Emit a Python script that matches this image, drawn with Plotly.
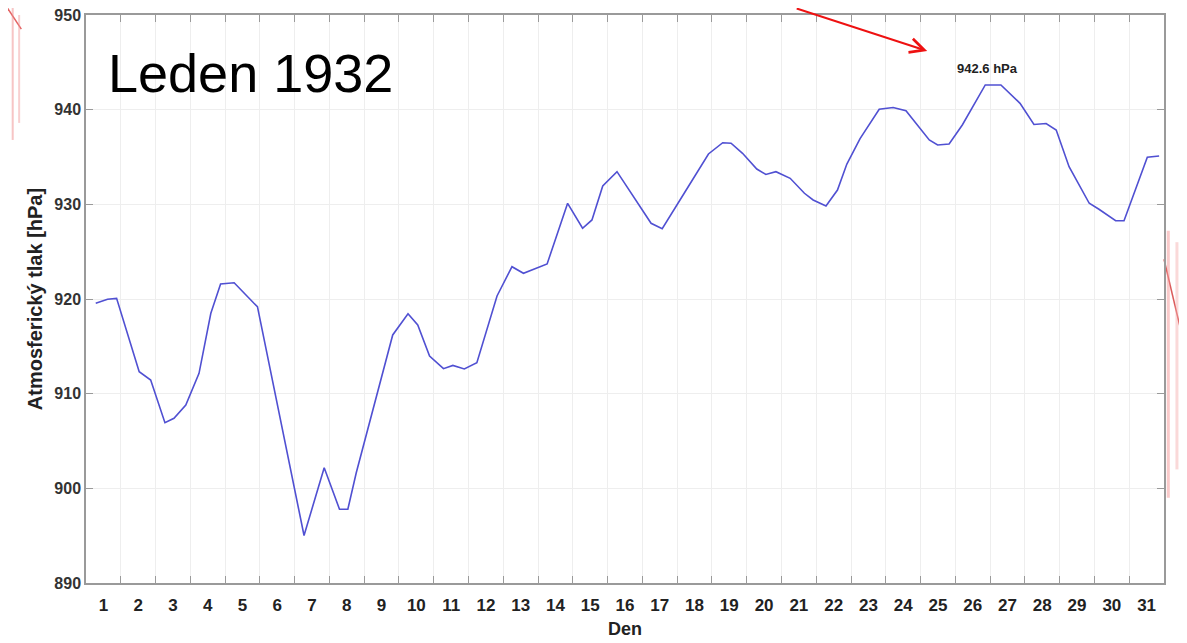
import plotly.graph_objects as go

# Time in days since 1 Jan 1932 00:00 (x axis spans 0..31 days)
time_days = [0.28, 0.62, 0.88, 1.53, 1.86, 2.27, 2.53, 2.87, 3.25, 3.59, 3.87, 4.26,
             4.83, 4.93, 6.27, 6.85, 7.29, 7.53, 7.77, 8.82, 9.26, 9.54, 9.88, 10.28,
             10.55, 10.88, 11.24, 11.82, 12.25, 12.58, 13.26, 13.61, 13.85, 14.28, 14.55,
             14.86, 15.27, 16.25, 16.57, 17.26, 17.90, 18.31, 18.55, 18.88, 19.29, 19.55,
             19.84, 20.25, 20.66, 20.91, 21.28, 21.61, 21.88, 22.26, 22.81, 23.21, 23.58,
             24.25, 24.49, 24.82, 25.20, 25.86, 26.31, 26.86, 27.26, 27.61, 27.90, 28.27,
             28.85, 29.13, 29.61, 29.85, 30.52, 30.86]
pressure_hpa = [919.55, 919.97, 920.07, 912.32, 911.44, 906.93, 907.40, 908.80, 912.15,
                918.49, 921.59, 921.72, 919.55, 919.19, 895.02, 902.17, 897.79, 897.79,
                901.62, 916.20, 918.45, 917.25, 913.98, 912.64, 912.98, 912.61, 913.27,
                920.32, 923.41, 922.72, 923.70, 927.64, 930.11, 927.47, 928.35, 931.94,
                933.45, 928.00, 927.42, 931.51, 935.32, 936.51, 936.45, 935.39, 933.73,
                933.15, 933.45, 932.75, 931.17, 930.46, 929.82, 931.51, 934.26, 936.95,
                940.04, 940.23, 939.89, 936.80, 936.27, 936.37, 938.38, 942.61, 942.61,
                940.67, 938.43, 938.54, 937.85, 933.98, 930.11, 929.48, 928.27, 928.27,
                934.97, 935.11]

day_labels = [str(d) for d in range(1, 32)]
day_label_pos = [d - 0.5 for d in range(1, 32)]
day_boundaries = list(range(1, 31))
y_ticks = [890, 900, 910, 920, 930, 940, 950]

peak_value = max(pressure_hpa)
peak_time = time_days[pressure_hpa.index(peak_value)]

FONT = "Arial, Liberation Sans, Helvetica, sans-serif"
AXIS_COLOR = "#9a9a9a"
GRID_COLOR = "#eeeeee"
TXT = "#222222"

fig = go.Figure()
fig.add_trace(go.Scatter(x=time_days, y=pressure_hpa, mode="lines",
                         line=dict(color="#5050d2", width=1.6),
                         showlegend=False, hoverinfo="skip"))
# invisible copy on the top axis so that its tick marks are drawn
fig.add_trace(go.Scatter(x=time_days, y=pressure_hpa, mode="lines", xaxis="x2",
                         line=dict(width=0), opacity=0,
                         showlegend=False, hoverinfo="skip"))

# the page body adds an 8 px offset, so the figure is made 8 px smaller
fig.update_layout(
    width=1179, height=635,
    margin=dict(l=78, r=22.5, t=7, b=60, autoexpand=False),
    paper_bgcolor="white", plot_bgcolor="white",
    font=dict(family=FONT, color=TXT),
    xaxis=dict(
        range=[0, 31], tickmode="array", tickvals=day_label_pos, ticktext=day_labels,
        ticks="", showgrid=False, zeroline=False, automargin=False,
        ticklabelstandoff=6, ticklabeloverflow="allow",
        showline=True, linecolor=AXIS_COLOR, linewidth=1.5, mirror=True,
        tickfont=dict(family=FONT, size=17, color=TXT, weight="bold"),
        minor=dict(tickmode="array", tickvals=day_boundaries, ticks="inside",
                   ticklen=7, tickcolor=AXIS_COLOR, tickwidth=1,
                   showgrid=True, gridcolor=GRID_COLOR, gridwidth=1),
        title=dict(text="<b>Den</b>", font=dict(family=FONT, size=18, color=TXT), standoff=8),
    ),
    xaxis2=dict(
        overlaying="x", side="top", anchor="y", range=[0, 31],
        tickmode="array", tickvals=day_boundaries, showticklabels=False,
        ticks="inside", ticklen=7, tickcolor=AXIS_COLOR, tickwidth=1,
        showgrid=False, zeroline=False, showline=False, automargin=False,
    ),
    yaxis=dict(
        range=[890, 950], tickmode="array", tickvals=y_ticks,
        ticks="inside", ticklen=7, tickcolor=AXIS_COLOR, tickwidth=1,
        showgrid=True, gridcolor=GRID_COLOR, gridwidth=1, zeroline=False, automargin=False,
        ticklabeloverflow="allow",
        showline=True, linecolor=AXIS_COLOR, linewidth=1.5, mirror="ticks",
        tickfont=dict(family=FONT, size=16, color="#333333", weight="bold"),
        title=dict(text="<b>Atmosferický tlak [hPa]</b>",
                   font=dict(family=FONT, size=20, color=TXT), standoff=6),
    ),
)

# Title inside plot
fig.add_annotation(text="Leden 1932", xref="paper", yref="paper", x=0.019, y=0.898,
                   xanchor="left", yanchor="middle", showarrow=False,
                   font=dict(family=FONT, size=54, color="black"))

# Peak value label
fig.add_annotation(text=f"<b>{peak_value:.1f} hPa</b>", x=peak_time + 0.06, y=944.4,
                   xref="x", yref="y", showarrow=False,
                   font=dict(family=FONT, size=13, color=TXT))

# Red arrow pointing to the label
fig.add_annotation(text="", x=24.19, y=946.2, xref="x", yref="y",
                   ax=-132, ay=-53, showarrow=True, arrowhead=5, arrowsize=1.4,
                   arrowwidth=2, arrowcolor="#ee1111")

# Faint remnants of background picture at the edges
edge_shapes = [
    dict(x0=-0.079, y0=1.03, x1=-0.06, y1=0.975, color="rgba(220,60,60,0.8)", w=1.5),
    dict(x0=-0.068, y0=1.03, x1=-0.068, y1=0.78, color="rgba(240,140,140,0.5)", w=2),
    dict(x0=-0.062, y0=1.0, x1=-0.062, y1=0.81, color="rgba(240,150,150,0.45)", w=2),
    dict(x0=1.0, y0=0.57, x1=1.02, y1=0.41, color="rgba(210,50,50,0.8)", w=1.5),
    dict(x0=1.004, y0=0.62, x1=1.004, y1=0.15, color="rgba(245,150,150,0.5)", w=3),
    dict(x0=1.012, y0=0.6, x1=1.012, y1=0.2, color="rgba(245,170,170,0.45)", w=3),
    dict(x0=1.02, y0=0.59, x1=1.02, y1=0.25, color="rgba(245,170,170,0.4)", w=3),
]
for s in edge_shapes:
    fig.add_shape(type="line", xref="paper", yref="paper", x0=s["x0"], y0=s["y0"],
                  x1=s["x1"], y1=s["y1"], line=dict(color=s["color"], width=s["w"]),
                  layer="below")

fig.write_html("out.html")
